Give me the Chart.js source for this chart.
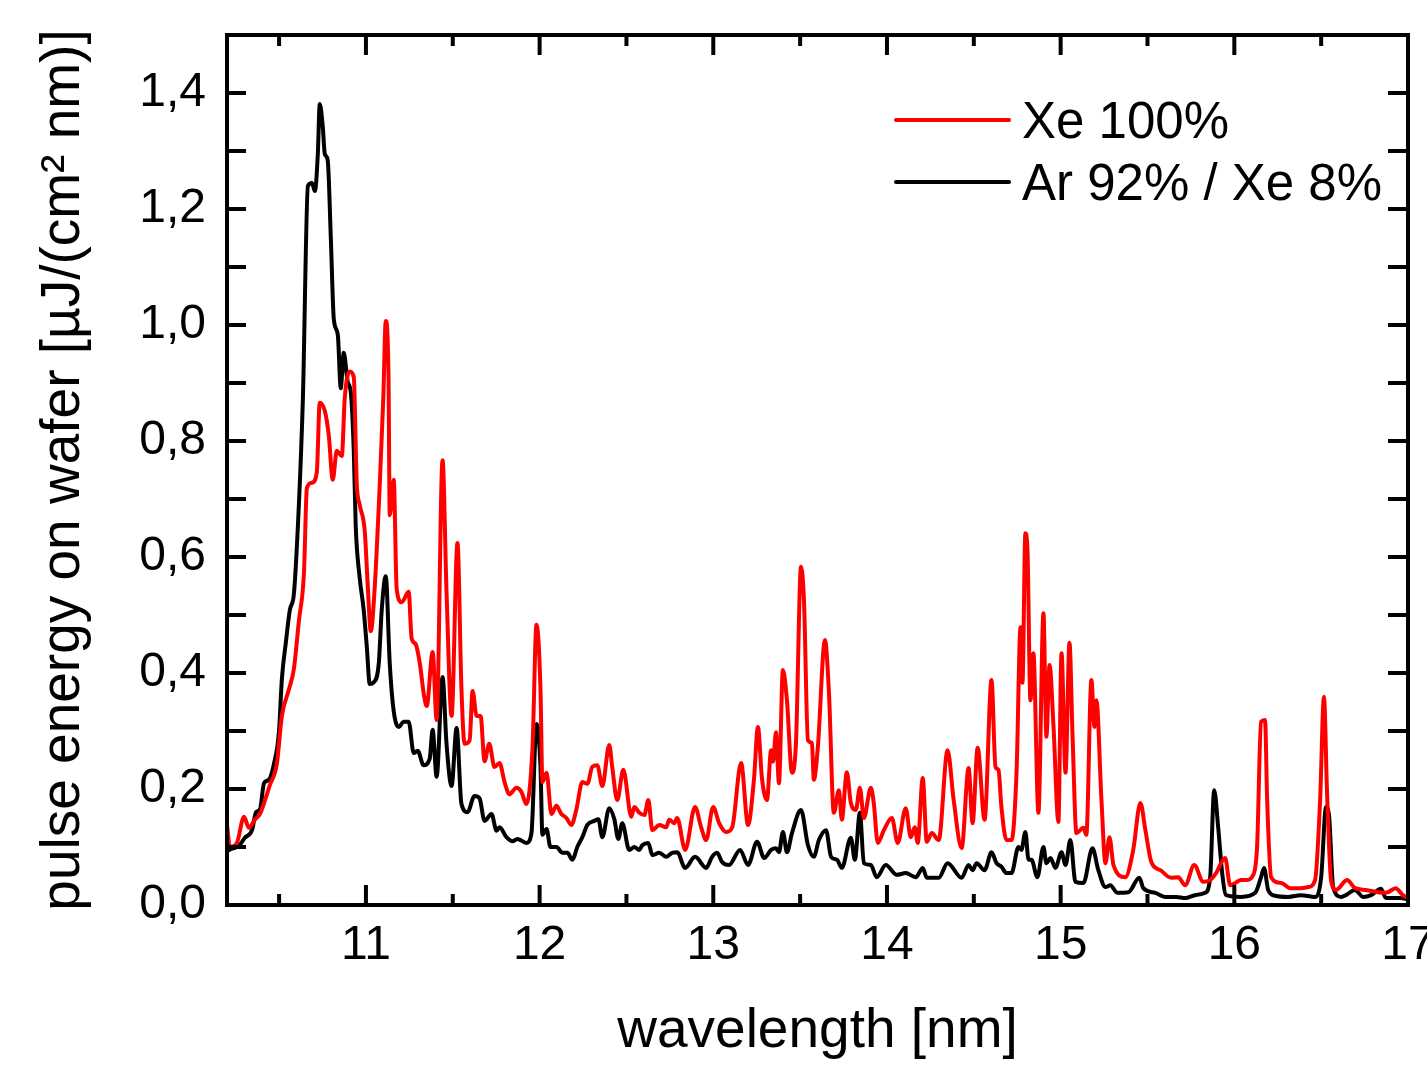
<!DOCTYPE html>
<html>
<head>
<meta charset="utf-8">
<script src="https://cdn.jsdelivr.net/npm/chart.js@4/dist/chart.umd.min.js"></script>
<style>
  body { margin: 0; background: #fff; }
  #chart { display: block; }
</style>
</head>
<body>
<canvas id="chart" width="1427" height="1070"></canvas>
<script>
// Spektrum Xe 100% (merah)
const xeWavelength = [
  10.2, 10.217, 10.257, 10.298, 10.326, 10.36, 10.39, 10.418, 10.447, 10.487,
  10.516, 10.556, 10.585, 10.614, 10.643, 10.66, 10.689, 10.717, 10.734, 10.763,
  10.786, 10.809, 10.832, 10.861, 10.878, 10.907, 10.93, 10.947, 10.964, 10.993,
  11.01, 11.028, 11.05, 11.08, 11.1, 11.114, 11.13, 11.137, 11.16, 11.177,
  11.206, 11.246, 11.263, 11.286, 11.31, 11.335, 11.35, 11.384, 11.407, 11.441,
  11.464, 11.493, 11.527, 11.55, 11.568, 11.597, 11.614, 11.637, 11.66, 11.683,
  11.71, 11.74, 11.769, 11.798, 11.826, 11.867, 11.895, 11.924, 11.959, 11.982,
  12.005, 12.016, 12.04, 12.068, 12.097, 12.125, 12.154, 12.183, 12.211, 12.246,
  12.275, 12.303, 12.332, 12.361, 12.401, 12.418, 12.447, 12.482, 12.528, 12.545,
  12.574, 12.603, 12.626, 12.649, 12.689, 12.729, 12.746, 12.775, 12.792, 12.838,
  12.895, 12.93, 12.959, 12.999, 13.034, 13.074, 13.109, 13.16, 13.2, 13.234,
  13.257, 13.28, 13.309, 13.333, 13.344, 13.361, 13.378, 13.401, 13.424, 13.453,
  13.476, 13.505, 13.522, 13.545, 13.568, 13.579, 13.602, 13.643, 13.666, 13.694,
  13.723, 13.74, 13.769, 13.792, 13.821, 13.844, 13.867, 13.907, 13.924, 13.947,
  13.982, 14.028, 14.062, 14.108, 14.137, 14.16, 14.177, 14.206, 14.229, 14.258,
  14.298, 14.349, 14.384, 14.43, 14.47, 14.493, 14.522, 14.562, 14.602, 14.625,
  14.642, 14.659, 14.688, 14.717, 14.746, 14.769, 14.78, 14.797, 14.809, 14.826,
  14.843, 14.872, 14.901, 14.918, 14.936, 14.959, 14.987, 15.005, 15.028, 15.051,
  15.068, 15.091, 15.131, 15.148, 15.177, 15.195, 15.206, 15.235, 15.258, 15.281,
  15.304, 15.372, 15.418, 15.459, 15.488, 15.522, 15.574, 15.637, 15.677, 15.717,
  15.769, 15.821, 15.861, 15.895, 15.947, 15.976, 16.005, 16.039, 16.068, 16.109,
  16.131, 16.154, 16.177, 16.189, 16.212, 16.27, 16.321, 16.384, 16.425, 16.465,
  16.494, 16.516, 16.534, 16.557, 16.586, 16.649, 16.695, 16.758, 16.826, 16.873,
  16.929, 16.97, 17.0
];
const xeEnergy = [
  0.138, 0.10, 0.107, 0.152, 0.133, 0.147, 0.157, 0.18, 0.207, 0.243,
  0.326, 0.371, 0.407, 0.49, 0.572, 0.719, 0.728, 0.746, 0.866, 0.852,
  0.81, 0.733, 0.783, 0.774, 0.874, 0.92, 0.91, 0.728, 0.69, 0.645,
  0.553, 0.472, 0.545, 0.728, 0.874, 1.007, 0.91, 0.672, 0.733, 0.545,
  0.522, 0.54, 0.46, 0.45, 0.417, 0.36, 0.343, 0.436, 0.319, 0.767,
  0.54, 0.326, 0.624, 0.372, 0.278, 0.284, 0.369, 0.326, 0.326, 0.248,
  0.278, 0.238, 0.245, 0.212, 0.191, 0.202, 0.195, 0.174, 0.272, 0.483,
  0.372, 0.212, 0.228, 0.157, 0.171, 0.157, 0.15, 0.138, 0.164, 0.212,
  0.209, 0.238, 0.241, 0.205, 0.276, 0.238, 0.181, 0.233, 0.152, 0.169,
  0.159, 0.155, 0.181, 0.129, 0.138, 0.134, 0.147, 0.141, 0.15, 0.095,
  0.169, 0.134, 0.112, 0.169, 0.141, 0.126, 0.134, 0.245, 0.138, 0.216,
  0.307, 0.219, 0.181, 0.267, 0.247, 0.298, 0.21, 0.405, 0.353, 0.228,
  0.279, 0.583, 0.526, 0.284, 0.279, 0.216, 0.272, 0.457, 0.366, 0.159,
  0.198, 0.147, 0.229, 0.176, 0.164, 0.202, 0.15, 0.202, 0.176, 0.107,
  0.129, 0.15, 0.107, 0.167, 0.117, 0.134, 0.107, 0.219, 0.109, 0.124,
  0.112, 0.267, 0.181, 0.098, 0.236, 0.141, 0.271, 0.147, 0.388, 0.238,
  0.233, 0.169, 0.112, 0.112, 0.228, 0.479, 0.383, 0.641, 0.612, 0.353,
  0.434, 0.159, 0.503, 0.29, 0.414, 0.307, 0.143, 0.434, 0.228, 0.452,
  0.297, 0.124, 0.133, 0.121, 0.388, 0.307, 0.353, 0.181, 0.072, 0.117,
  0.069, 0.048, 0.095, 0.176, 0.129, 0.074, 0.06, 0.047, 0.048, 0.034,
  0.069, 0.04, 0.043, 0.055, 0.081, 0.034, 0.038, 0.043, 0.043, 0.052,
  0.1, 0.316, 0.319, 0.181, 0.048, 0.038, 0.029, 0.029, 0.031, 0.043,
  0.181, 0.359, 0.193, 0.043, 0.026, 0.043, 0.029, 0.026, 0.022, 0.021,
  0.029, 0.017, 0.012
];

// Spektrum Ar 92% / Xe 8% (hitam)
const arWavelength = [
  10.2, 10.229, 10.269, 10.303, 10.344, 10.367, 10.39, 10.413, 10.441, 10.47,
  10.499, 10.516, 10.539, 10.562, 10.585, 10.614, 10.637, 10.666, 10.689, 10.706,
  10.723, 10.734, 10.752, 10.763, 10.78, 10.798, 10.815, 10.838, 10.855, 10.872,
  10.895, 10.913, 10.93, 10.941, 10.964, 10.987, 11.005, 11.022, 11.045, 11.074,
  11.091, 11.114, 11.137, 11.16, 11.189, 11.217, 11.246, 11.275, 11.298, 11.332,
  11.367, 11.384, 11.407, 11.441, 11.464, 11.493, 11.522, 11.55, 11.585, 11.625,
  11.654, 11.683, 11.723, 11.752, 11.769, 11.809, 11.844, 11.872, 11.924, 11.953,
  11.982, 12.005, 12.016, 12.04, 12.062, 12.097, 12.131, 12.16, 12.189, 12.217,
  12.246, 12.275, 12.315, 12.338, 12.361, 12.401, 12.43, 12.453, 12.476, 12.516,
  12.545, 12.574, 12.591, 12.626, 12.649, 12.689, 12.729, 12.763, 12.792, 12.838,
  12.895, 12.959, 12.993, 13.022, 13.051, 13.091, 13.154, 13.2, 13.252, 13.293,
  13.333, 13.361, 13.378, 13.401, 13.424, 13.453, 13.505, 13.545, 13.579, 13.608,
  13.649, 13.678, 13.712, 13.74, 13.792, 13.815, 13.844, 13.867, 13.907, 13.941,
  13.993, 14.056, 14.108, 14.166, 14.206, 14.229, 14.298, 14.349, 14.43, 14.47,
  14.493, 14.516, 14.562, 14.602, 14.631, 14.659, 14.688, 14.717, 14.757, 14.774,
  14.797, 14.815, 14.832, 14.866, 14.901, 14.918, 14.941, 14.97, 15.005, 15.028,
  15.056, 15.085, 15.131, 15.183, 15.217, 15.258, 15.286, 15.326, 15.39, 15.453,
  15.476, 15.545, 15.602, 15.666, 15.717, 15.774, 15.832, 15.861, 15.884, 15.907,
  15.93, 15.953, 16.039, 16.12, 16.154, 16.171, 16.195, 16.235, 16.31, 16.384,
  16.465, 16.5, 16.528, 16.546, 16.569, 16.615, 16.643, 16.695, 16.741, 16.787,
  16.844, 16.873, 16.954, 17.0
];
const arEnergy = [
  0.093, 0.097, 0.102, 0.116, 0.129, 0.16, 0.165, 0.21, 0.216, 0.243,
  0.298, 0.39, 0.453, 0.509, 0.536, 0.691, 0.874, 1.24, 1.245, 1.231,
  1.295, 1.381, 1.34, 1.295, 1.284, 1.148, 1.01, 0.983, 0.891, 0.952,
  0.902, 0.883, 0.783, 0.655, 0.564, 0.509, 0.445, 0.381, 0.384, 0.417,
  0.509, 0.567, 0.417, 0.334, 0.307, 0.316, 0.316, 0.262, 0.266, 0.241,
  0.252, 0.302, 0.221, 0.393, 0.278, 0.205, 0.305, 0.174, 0.16, 0.188,
  0.184, 0.145, 0.157, 0.128, 0.134, 0.117, 0.11, 0.114, 0.107, 0.124,
  0.312, 0.238, 0.121, 0.131, 0.1, 0.1, 0.09, 0.09, 0.078, 0.1,
  0.117, 0.138, 0.145, 0.148, 0.117, 0.167, 0.148, 0.114, 0.141, 0.095,
  0.1, 0.095, 0.103, 0.107, 0.086, 0.09, 0.083, 0.09, 0.091, 0.064,
  0.083, 0.064, 0.083, 0.09, 0.074, 0.069, 0.095, 0.069, 0.109, 0.081,
  0.095, 0.098, 0.091, 0.126, 0.091, 0.124, 0.164, 0.103, 0.083, 0.112,
  0.129, 0.083, 0.078, 0.064, 0.116, 0.078, 0.159, 0.072, 0.069, 0.048,
  0.069, 0.052, 0.055, 0.048, 0.064, 0.047, 0.047, 0.072, 0.047, 0.069,
  0.06, 0.072, 0.06, 0.091, 0.072, 0.066, 0.055, 0.055, 0.1, 0.095,
  0.126, 0.078, 0.078, 0.048, 0.1, 0.072, 0.081, 0.064, 0.091, 0.069,
  0.112, 0.04, 0.038, 0.098, 0.06, 0.031, 0.034, 0.021, 0.022, 0.047,
  0.029, 0.021, 0.014, 0.014, 0.012, 0.017, 0.021, 0.048, 0.198, 0.134,
  0.055, 0.017, 0.014, 0.021, 0.048, 0.064, 0.026, 0.016, 0.014, 0.017,
  0.014, 0.048, 0.169, 0.152, 0.031, 0.014, 0.017, 0.026, 0.014, 0.017,
  0.028, 0.012, 0.012, 0.01
];

const seriesLabels = ['Xe 100%', 'Ar 92% / Xe 8%'];
const xTitle = 'wavelength [nm]';
const yTitle = 'pulse energy on wafer [µJ/(cm² nm)]';

const FONT = "'Liberation Sans', Arial, sans-serif";

function toPoints(xs, ys) {
  return xs.map((x, i) => ({ x: x, y: ys[i] }));
}

// Bingkai + tick ke dalam di keempat sisi
const frameTicks = {
  id: 'frameTicks',
  afterDatasetsDraw(chart) {
    const { ctx, chartArea: a, scales } = chart;
    const xs = scales.x, ys = scales.y;
    ctx.save();
    ctx.strokeStyle = '#000';
    ctx.lineWidth = 4;
    ctx.lineCap = 'butt';
    ctx.beginPath();
    // x: mayor tiap 1 nm, minor tiap 0,5 nm
    for (let v = 10.5; v <= 17.001; v += 0.5) {
      const px = xs.getPixelForValue(v);
      const len = Math.abs(v - Math.round(v)) < 1e-6 ? 20 : 11;
      ctx.moveTo(px, a.bottom); ctx.lineTo(px, a.bottom - len);
      ctx.moveTo(px, a.top); ctx.lineTo(px, a.top + len);
    }
    // y: tiap 0,1
    for (let k = 1; k < 15; k++) {
      const py = ys.getPixelForValue(k / 10);
      ctx.moveTo(a.left, py); ctx.lineTo(a.left + 19, py);
      ctx.moveTo(a.right, py); ctx.lineTo(a.right - 20, py);
    }
    ctx.stroke();
    ctx.strokeRect(a.left, a.top, a.right - a.left, a.bottom - a.top);
    ctx.restore();
  }
};

// Legenda di dalam area plot (kanan atas)
const insideLegend = {
  id: 'insideLegend',
  afterDraw(chart) {
    const { ctx } = chart;
    ctx.save();
    ctx.font = '51px ' + FONT;
    ctx.textBaseline = 'alphabetic';
    ctx.textAlign = 'left';
    ctx.lineWidth = 4;
    ctx.lineCap = 'round';
    const rowsY = [120, 182];
    chart.data.datasets.forEach((ds, i) => {
      const y = rowsY[i];
      ctx.strokeStyle = ds.borderColor;
      ctx.beginPath();
      ctx.moveTo(896, y);
      ctx.lineTo(1009, y);
      ctx.stroke();
      ctx.fillStyle = '#000';
      ctx.fillText(ds.label, 1022, y + 18);
    });
    ctx.restore();
  }
};

const ctx = document.getElementById('chart').getContext('2d');
new Chart(ctx, {
  type: 'line',
  data: {
    datasets: [
      {
        label: seriesLabels[0],
        data: toPoints(xeWavelength, xeEnergy),
        borderColor: '#ff0000',
        borderWidth: 4,
        pointRadius: 0,
        cubicInterpolationMode: 'monotone',
        borderJoinStyle: 'round'
      },
      {
        label: seriesLabels[1],
        data: toPoints(arWavelength, arEnergy),
        borderColor: '#000000',
        borderWidth: 4,
        pointRadius: 0,
        cubicInterpolationMode: 'monotone',
        borderJoinStyle: 'round'
      }
    ]
  },
  options: {
    responsive: false,
    animation: false,
    layout: { padding: { top: 35, right: 19, bottom: 0, left: 0 } },
    plugins: {
      legend: { display: false },
      tooltip: { enabled: false }
    },
    scales: {
      x: {
        type: 'linear',
        min: 10.2,
        max: 17,
        grid: { display: false, drawTicks: false },
        border: { display: false },
        ticks: {
          stepSize: 1,
          includeBounds: false,
          padding: 12,
          color: '#000',
          font: { family: FONT, size: 48 },
          maxRotation: 0,
          callback: v => String(v)
        },
        title: {
          display: true,
          text: xTitle,
          color: '#000',
          font: { family: FONT, size: 55 },
          padding: { top: 0, bottom: 5 }
        },
        afterFit(scale) {
          scale.height = 165;
          scale.paddingLeft = 0;
          scale.paddingRight = 0;
        }
      },
      y: {
        type: 'linear',
        min: 0,
        max: 1.5,
        grid: { display: false, drawTicks: false },
        border: { display: false },
        ticks: {
          stepSize: 0.2,
          includeBounds: false,
          padding: 21,
          color: '#000',
          font: { family: FONT, size: 48 },
          callback: v => v.toFixed(1).replace('.', ',')
        },
        title: {
          display: true,
          text: yTitle,
          color: '#000',
          font: { family: FONT, size: 55 },
          padding: { top: 31, bottom: 0 }
        },
        afterFit(scale) {
          scale.width = 227;
          scale.paddingTop = 0;
          scale.paddingBottom = 0;
        }
      }
    }
  },
  plugins: [frameTicks, insideLegend]
});
</script>
</body>
</html>
